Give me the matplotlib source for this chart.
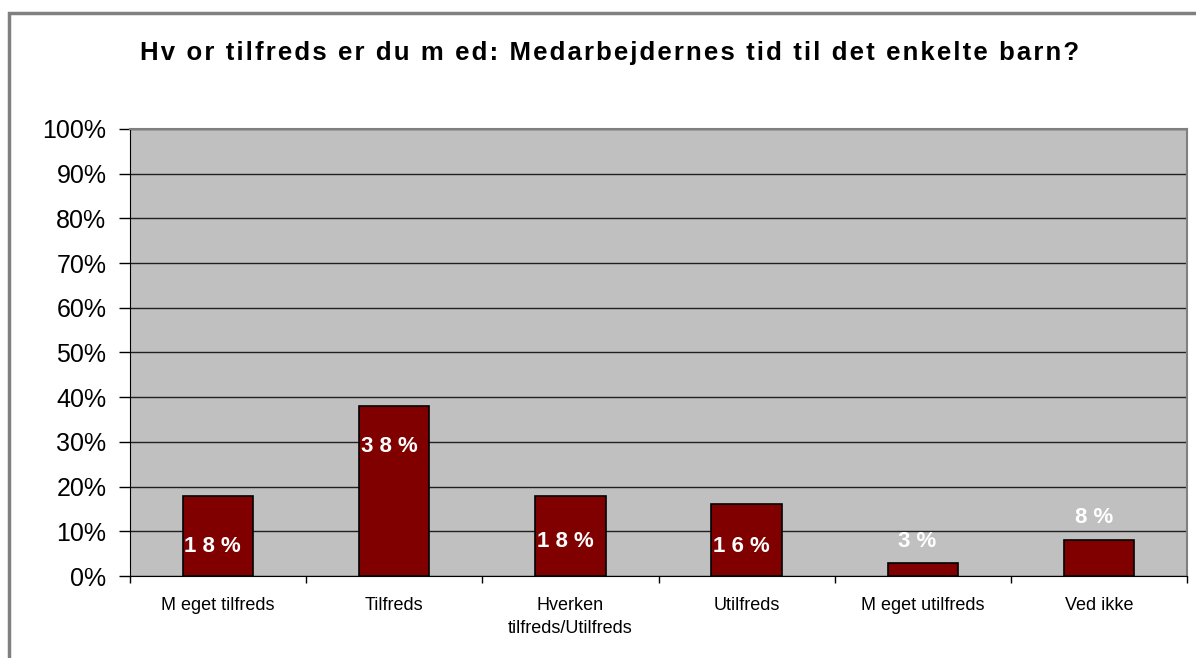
import matplotlib.pyplot as plt
import matplotlib.patches as mpatches

plt.rcParams['font.family'] = ['Liberation Sans', 'DejaVu Sans']

categories = ["M eget tilfreds", "Tilfreds", "Hverken\ntilfreds/Utilfreds",
              "Utilfreds", "M eget utilfreds", "Ved ikke"]
values = [18, 38, 18, 16, 3, 8]
labels = ["18%", "38%", "18%", "16%", "3%", "8%"]
# where Excel put the data labels (in % units)
label_y = [6.7, 28.9, 7.8, 6.7, 7.7, 13.0]
yticks = [0, 10, 20, 30, 40, 50, 60, 70, 80, 90, 100]
title = "Hv or tilfreds er du m ed: Medarbejdernes tid til det enkelte barn?"

fig = plt.figure(figsize=(11.96, 6.58), dpi=100)
ax = fig.add_axes([0.1087, 0.1246, 0.8838, 0.6794])

# outer chart border (grey, runs off right and bottom)
fig.patches.append(mpatches.Rectangle((9 / 1196, -0.05), 1.2, 1 - 13 / 658 + 0.05,
                                      transform=fig.transFigure, fill=False,
                                      edgecolor='#808080', linewidth=2.5))

ax.set_facecolor('#C0C0C0')
xs = range(len(values))
ax.bar(xs, values, width=0.4, color='#800000', edgecolor='black', linewidth=1.2, zorder=3)

for x, ly, t in zip(xs, label_y, labels):
    ax.text(x - 0.03, ly, " ".join(t), ha='center', va='center', color='white',
            fontsize=16, fontweight='bold', zorder=4)

ax.set_xlim(-0.5, len(values) - 0.5)
ax.set_ylim(0, 100)
ax.set_yticks(yticks)
ax.set_yticklabels([f"{t}%" for t in yticks], fontsize=18)
ax.yaxis.grid(True, color='#202020', linewidth=1)
ax.set_axisbelow(True)
ax.tick_params(axis='y', direction='out', length=8, width=1, pad=9)

ax.set_xticks([x + 0.5 for x in range(-1, len(values))], minor=False)
ax.set_xticklabels([])
ax.set_xticks(list(xs), minor=True)
ax.set_xticklabels(categories, minor=True, fontsize=13, linespacing=1.5, va='top')
ax.tick_params(axis='x', which='major', direction='out', length=5, width=1)
ax.tick_params(axis='x', which='minor', length=0, pad=15)

for side in ['top', 'right']:
    ax.spines[side].set_color('#808080')
    ax.spines[side].set_linewidth(1.5)
ax.spines['left'].set_color('black')
ax.spines['bottom'].set_color('black')

# wide letter spacing like the original
fig.text(0.51, 0.92, "\u200a".join(title), ha='center', va='center',
         fontsize=18.5, fontweight='bold')

fig.savefig('out.png', dpi=100)
